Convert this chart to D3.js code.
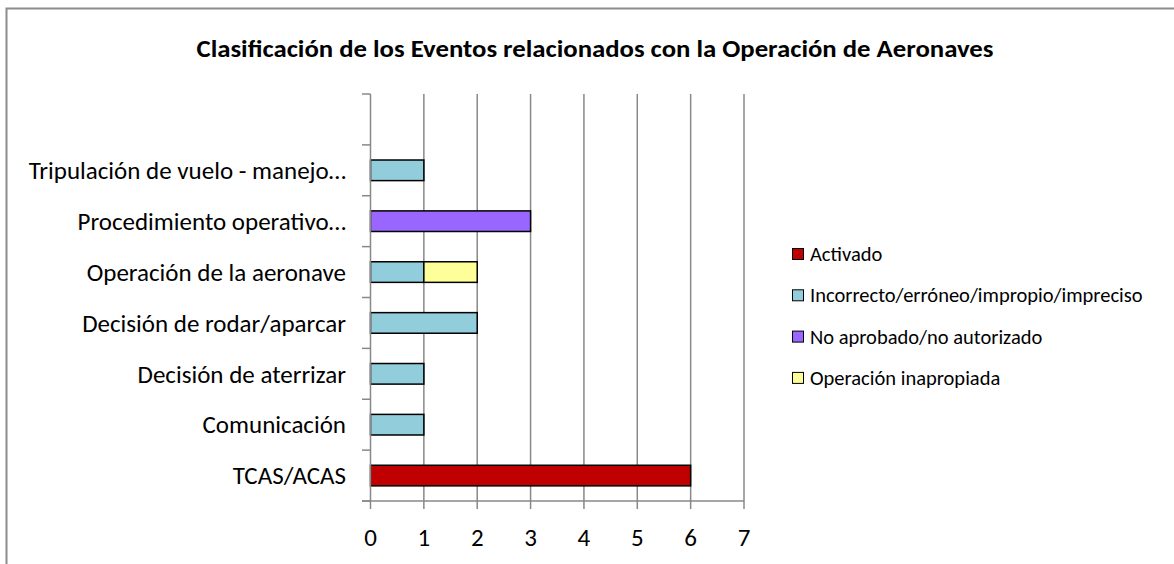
<!DOCTYPE html>
<html><head><meta charset="utf-8">
<script src="https://cdn.jsdelivr.net/npm/d3@7"></script>
<style>body{margin:0;background:#fff;}svg{display:block;}</style>
</head><body>
<svg id="c" width="1174" height="564"></svg>
<script>
const title = "Clasificación de los Eventos relacionados con la Operación de Aeronaves";
const categories = ["TCAS/ACAS","Comunicación","Decisión de aterrizar","Decisión de rodar/aparcar","Operación de la aeronave","Procedimiento operativo…","Tripulación de vuelo - manejo…",""];
const seriesNames = ["Activado","Incorrecto/erróneo/impropio/impreciso","No aprobado/no autorizado","Operación inapropiada"];
const activado    = [6,0,0,0,0,0,0,0];
const incorrecto  = [0,1,1,2,1,0,1,0];
const noAprobado  = [0,0,0,0,0,3,0,0];
const inapropiada = [0,0,0,0,1,0,0,0];
const seriesColors = ["#C00000","#92CDDC","#9966FF","#FFFF99"];
const xTicks = [0,1,2,3,4,5,6,7];

const svg = d3.select("#c");
const font = "Carlito, Calibri, Lato, 'Liberation Sans', sans-serif";
svg.append("rect").attr("x",6.5).attr("y",8.5).attr("width",1200).attr("height",600)
  .attr("fill","#fff").attr("stroke","#8c8c8c").attr("stroke-width",2);

const t = svg.append("text").attr("x",595).attr("y",57).attr("text-anchor","middle")
  .attr("font-family",font).attr("font-weight","bold").attr("font-size",24)
  .text(title);
const tw = t.node().getComputedTextLength();
if (Math.abs(tw-797) > 15) t.attr("textLength",797).attr("lengthAdjust","spacingAndGlyphs");

const x = d3.scaleLinear().domain([0,7]).range([370.5,744]);
const yb = d3.scaleBand().domain(categories.map((c,i)=>i)).range([501,94]);

// gridlines
svg.append("g").selectAll("line").data(xTicks.slice(1)).join("line")
  .attr("x1",d=>x(d)).attr("x2",d=>x(d)).attr("y1",94).attr("y2",501)
  .attr("stroke","#888").attr("stroke-width",1.5);

// stacked bars
const rows = categories.map((c,i)=>({i, [seriesNames[0]]:activado[i], [seriesNames[1]]:incorrecto[i], [seriesNames[2]]:noAprobado[i], [seriesNames[3]]:inapropiada[i]}));
const stack = d3.stack().keys(seriesNames)(rows);
stack.forEach((s,k)=>{
  svg.append("g").selectAll("rect").data(s.filter(d=>d[1]-d[0]>0)).join("rect")
    .attr("x",d=>x(d[0])).attr("width",d=>x(d[1])-x(d[0]))
    .attr("y",d=>yb(d.data.i)+yb.bandwidth()/2-10.3).attr("height",20.6)
    .attr("fill",seriesColors[k]).attr("stroke","#000").attr("stroke-width",1.5);
});

// y axis
const yAxis = svg.append("g");
yAxis.append("line").attr("x1",370.5).attr("x2",370.5).attr("y1",94).attr("y2",501).attr("stroke","#888").attr("stroke-width",1.5);
const bounds = d3.range(categories.length+1).map(i=>501 - i*yb.step());
yAxis.selectAll("line.t").data(bounds).join("line").attr("class","t")
  .attr("x1",362).attr("x2",370.5).attr("y1",d=>d).attr("y2",d=>d).attr("stroke","#888").attr("stroke-width",1.5);
yAxis.selectAll("text").data(categories).join("text")
  .attr("x",346).attr("y",(d,i)=>yb(i)+yb.bandwidth()/2).attr("dy","0.35em")
  .attr("text-anchor","end").attr("font-family",font).attr("font-size",25).attr("fill","#000")
  .text(d=>d);

// x axis
const xAxis = svg.append("g");
xAxis.append("line").attr("x1",362).attr("x2",744).attr("y1",501).attr("y2",501).attr("stroke","#888").attr("stroke-width",1.5);
xAxis.selectAll("line.t").data(xTicks).join("line").attr("class","t")
  .attr("x1",d=>x(d)).attr("x2",d=>x(d)).attr("y1",501).attr("y2",509).attr("stroke","#888").attr("stroke-width",1.5);
xAxis.selectAll("text").data(xTicks).join("text")
  .attr("x",d=>x(d)).attr("y",537).attr("dy","0.35em").attr("text-anchor","middle")
  .attr("font-family",font).attr("font-size",25).text(d=>d);

// legend
const lg = svg.append("g").selectAll("g").data(seriesNames).join("g")
  .attr("transform",(d,i)=>`translate(792,${254+i*41.3})`);
lg.append("rect").attr("x",0.5).attr("y",-5.5).attr("width",11).attr("height",11)
  .attr("fill",(d,i)=>seriesColors[i]).attr("stroke","#000").attr("stroke-width",1);
lg.append("text").attr("x",18).attr("y",0).attr("dy","0.35em")
  .attr("font-family",font).attr("font-size",20.5).text(d=>d);
</script>
</body></html>
